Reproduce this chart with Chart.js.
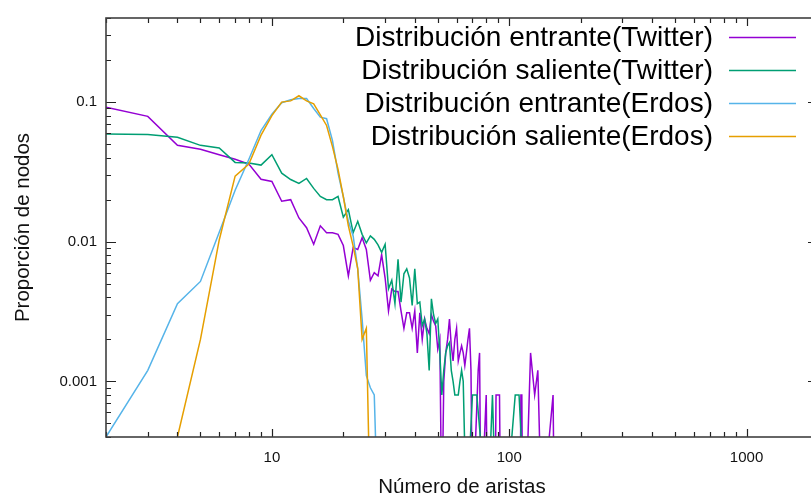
<!DOCTYPE html>
<html>
<head>
<meta charset="utf-8">
<script src="https://cdn.jsdelivr.net/npm/chart.js@4.4.0/dist/chart.umd.min.js"></script>
<style>
  html, body { margin: 0; padding: 0; background: #fff; overflow: hidden; }
  #wrap { width: 811px; height: 501px; overflow: hidden; }
  canvas { display: block; }
</style>
</head>
<body>
<div id="wrap"><canvas id="chart" width="830" height="501"></canvas></div>
<script>
// grados (x) y proporcion de nodos (y)
// 0.0001 = grado sin nodos, queda por debajo del eje (como en gnuplot)
const twitterInX = [2,3,4,5,6,7,8,9,10,11,12,13,14,15,16,17,18,19,20,21,22,23,24,25,26,27,28,29,30,
  31,32,33,34,35,36,37,38,39,40,41,42,43,44,45,46,47,48,49,50,51,52,53,54,55,56,57,58,59,60,
  61,62,63,64,65,66,67,68,69,70,74,75,76,80,81,87,88,91,92,111,112,113,114,117,123,128,132,137,153,155];
const twitterInY = [0.092,0.079,0.049,0.046,0.042,0.039,0.036,0.028,0.027,0.0195,0.020,0.0148,0.0126,0.0096,0.013,
  0.0116,0.0116,0.0113,0.0094,0.0057,0.0091,0.0088,0.0107,0.0088,0.0053,0.006,0.0057,0.0081,0.0055,
  0.0032,0.0046,0.0044,0.0044,0.0032,0.0024,0.0031,0.0031,0.0024,0.0032,0.0016,0.0031,0.0020,0.0028,0.0024,0.0022,
  0.0030,0.0027,0.0025,0.0017,0.0020,0.0001,0.0010,0.0016,0.0020,0.0028,0.0018,0.0014,0.0020,0.0024,
  0.0014,0.0016,0.0018,0.0016,0.0013,0.0016,0.0020,0.0024,0.0012,0.0001,0.0012,0.0016,0.0001,0.0008,0.0001,0.0001,0.0008,0.0008,0.0001,
  0.0001,0.0008,0.0008,0.0001,0.0001,0.0016,0.0008,0.0012,0.0001,0.0008,0.0001];

const twitterOutX = [2,3,4,5,6,7,8,9,10,11,12,13,14,15,16,17,18,19,20,21,22,23,24,25,26,27,28,29,30,
  31,32,33,34,35,36,37,38,39,40,41,42,43,44,45,46,47,48,49,50,51,52,53,54,55,56,57,58,59,60,
  61,62,63,64,66,70,73,81,85,88,96,106,110,117];
const twitterOutY = [0.059,0.0587,0.056,0.049,0.047,0.037,0.0367,0.0354,0.042,0.031,0.0279,0.0262,0.0284,0.0241,0.0211,
  0.020,0.020,0.0211,0.015,0.017,0.0116,0.014,0.0113,0.0098,0.011,0.0104,0.0095,0.0084,0.0096,
  0.0046,0.0053,0.0036,0.0075,0.0037,0.0059,0.0064,0.0055,0.0035,0.0064,0.0036,0.0037,0.0025,0.0028,0.0022,0.0012,
  0.0039,0.0030,0.0026,0.0028,0.0016,0.0008,0.0012,0.0016,0.0018,0.0019,0.0012,0.0010,0.0008,0.0008,
  0.0008,0.0010,0.0012,0.0010,0.0001,0.0008,0.0008,0.0001,0.0008,0.0001,0.0001,0.0008,0.0008,0.0001];

const erdosInX = [2,3,4,5,6,7,8,9,10,11,12,13,14,15,16,17,18,19,20,21,22,23,24,25,26,27,28];
const erdosInY = [0.0004,0.0012,0.0036,0.0052,0.0117,0.0234,0.039,0.0626,0.082,0.099,0.104,0.106,0.106,0.090,
  0.078,0.076,0.053,0.031,0.021,0.014,0.011,0.0064,0.0028,0.0011,0.0009,0.0008,0.0001];

const erdosOutX = [4,5,6,7,8,9,10,11,12,13,14,15,16,17,18,19,20,21,22,23,24,25,26];
const erdosOutY = [0.0004,0.002,0.0103,0.0295,0.036,0.058,0.080,0.100,0.102,0.111,0.102,0.097,0.081,0.068,
  0.048,0.033,0.021,0.013,0.0093,0.0064,0.002,0.0024,0.0001];

const seriesLabels = [
  'Distribución entrante(Twitter)',
  'Distribución saliente(Twitter)',
  'Distribución entrante(Erdos)',
  'Distribución saliente(Erdos)'
];
const seriesColors = ['#9400d3', '#009e73', '#56b4e9', '#e69f00'];

const xMajorTicks = [10, 100, 1000];
const xTickLabels = ['10', '100', '1000'];
const yMajorTicks = [0.001, 0.01, 0.1];
const yTickLabels = ['0.001', '0.01', '0.1'];

const FONT = '"Liberation Sans", Arial, sans-serif';

function points(xs, ys) {
  return xs.map((x, i) => ({ x: x, y: ys[i] }));
}

// 1..9 x 10^n entre min y max, como las marcas de gnuplot
function logTicks(min, max) {
  const out = [];
  for (let e = Math.floor(Math.log10(min)); e <= Math.ceil(Math.log10(max)); e++) {
    for (let m = 1; m <= 9; m++) {
      const v = parseFloat((m * Math.pow(10, e)).toPrecision(6));
      if (v >= min * 0.9999 && v <= max * 1.0001) out.push({ value: v });
    }
  }
  return out;
}

function isDecade(v) {
  const l = Math.log10(v);
  return Math.abs(l - Math.round(l)) < 1e-6;
}

function labelFor(v, majors, labels) {
  const i = majors.findIndex(m => Math.abs(m - v) / m < 1e-6);
  return i >= 0 ? labels[i] : '';
}

// borde + marcas hacia dentro en los cuatro lados
const frameTicks = {
  id: 'frameTicks',
  afterDatasetsDraw(chart) {
    const { ctx, chartArea: a, scales } = chart;
    ctx.save();
    ctx.strokeStyle = '#222';
    ctx.lineWidth = 1.2;
    ctx.beginPath();
    scales.x.ticks.forEach(t => {
      const px = Math.round(scales.x.getPixelForValue(t.value)) + 0.5;
      const len = isDecade(t.value) ? 8 : 5;
      ctx.moveTo(px, a.bottom); ctx.lineTo(px, a.bottom - len);
      ctx.moveTo(px, a.top); ctx.lineTo(px, a.top + len);
    });
    scales.y.ticks.forEach(t => {
      const py = Math.round(scales.y.getPixelForValue(t.value)) + 0.5;
      const len = isDecade(t.value) ? 10 : 5;
      ctx.moveTo(a.left, py); ctx.lineTo(a.left + len, py);
      ctx.moveTo(a.right, py); ctx.lineTo(a.right - len, py);
    });
    ctx.stroke();
    ctx.strokeStyle = '#404040';
    ctx.lineWidth = 1.6;
    ctx.strokeRect(a.left, a.top, a.right - a.left, a.bottom - a.top);
    ctx.restore();
  }
};

// leyenda estilo gnuplot: texto a la derecha, muestra de linea despues
const keyBox = {
  id: 'keyBox',
  afterDraw(chart) {
    const ctx = chart.ctx;
    ctx.save();
    ctx.font = '28px ' + FONT;
    ctx.textAlign = 'right';
    ctx.textBaseline = 'middle';
    chart.data.datasets.forEach((ds, i) => {
      const y = 37.5 + i * 33;
      ctx.fillStyle = '#000';
      ctx.fillText(ds.label, 713, y + 1);
      ctx.strokeStyle = ds.borderColor;
      ctx.lineWidth = 1.5;
      ctx.beginPath();
      ctx.moveTo(729, y);
      ctx.lineTo(796, y);
      ctx.stroke();
    });
    ctx.restore();
  }
};

const seriesX = [twitterInX, twitterOutX, erdosInX, erdosOutX];
const seriesY = [twitterInY, twitterOutY, erdosInY, erdosOutY];

const datasets = seriesLabels.map((label, i) => ({
  label: label,
  data: points(seriesX[i], seriesY[i]),
  borderColor: seriesColors[i],
  backgroundColor: seriesColors[i],
  borderWidth: 1.5,
  pointRadius: 0,
  tension: 0,
  fill: false,
  order: seriesLabels.length - i
}));

new Chart(document.getElementById('chart').getContext('2d'), {
  type: 'line',
  data: { datasets: datasets },
  options: {
    responsive: false,
    animation: false,
    layout: { padding: { top: 13, right: 11, bottom: 0, left: 0 } },
    plugins: { legend: { display: false }, tooltip: { enabled: false } },
    scales: {
      x: {
        type: 'logarithmic',
        min: 2,
        max: 2000,
        afterBuildTicks: s => { s.ticks = logTicks(2, 2000); },
        afterFit: s => { s.height = 64; },
        grid: { display: false, drawTicks: false },
        border: { display: false },
        ticks: {
          autoSkip: false,
          maxRotation: 0,
          padding: 12,
          color: '#111',
          font: { family: FONT, size: 15 },
          callback: v => labelFor(v, xMajorTicks, xTickLabels)
        },
        title: {
          display: true,
          text: 'Número de aristas',
          color: '#111',
          font: { family: FONT, size: 20.5 },
          padding: { top: 0, bottom: 1 }
        }
      },
      y: {
        type: 'logarithmic',
        min: 0.0004,
        max: 0.4,
        afterBuildTicks: s => { s.ticks = logTicks(0.0004, 0.4); },
        afterFit: s => { s.width = 106; },
        grid: { display: false, drawTicks: false },
        border: { display: false },
        ticks: {
          autoSkip: false,
          padding: 9,
          color: '#111',
          font: { family: FONT, size: 15 },
          callback: v => labelFor(v, yMajorTicks, yTickLabels)
        },
        title: {
          display: true,
          text: 'Proporción de nodos',
          color: '#111',
          font: { family: FONT, size: 20.5 },
          padding: { top: 11, bottom: 0 }
        }
      }
    }
  },
  plugins: [frameTicks, keyBox]
});
</script>
</body>
</html>
